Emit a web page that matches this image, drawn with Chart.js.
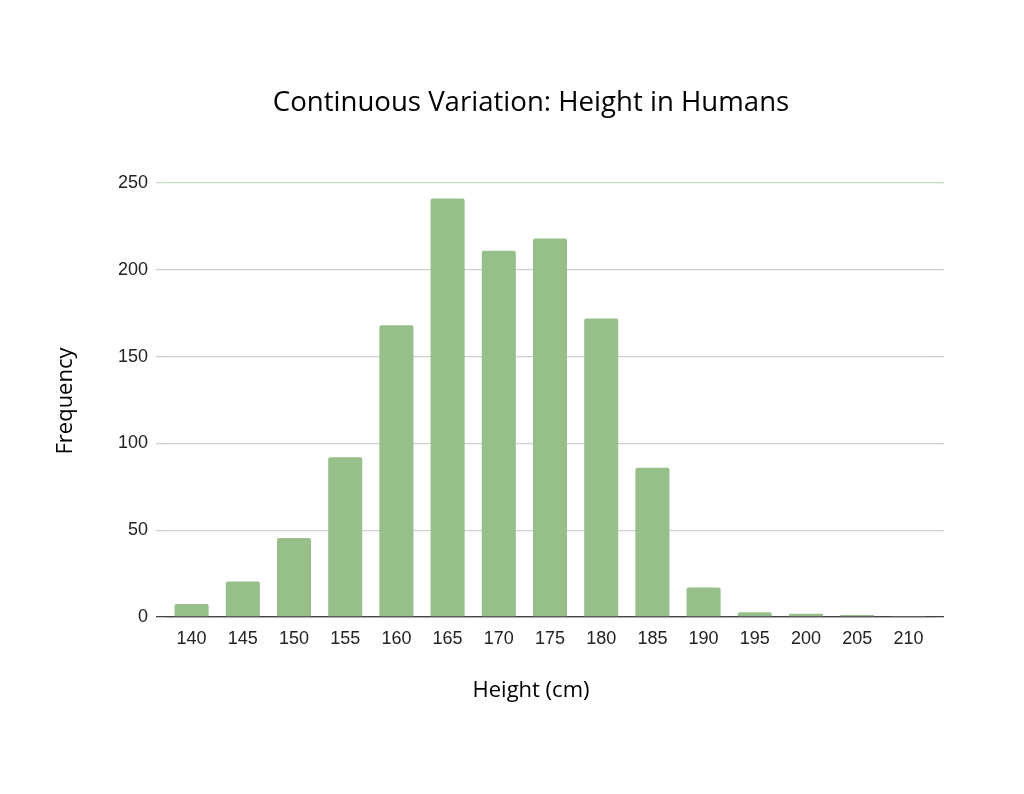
<!DOCTYPE html>
<html>
<head>
<meta charset="utf-8">
<script src="https://cdn.jsdelivr.net/npm/chart.js@4"></script>
<style>
  html, body { margin: 0; padding: 0; background: #fff; }
  #wrap { width: 1024px; height: 794px; position: relative; }
</style>
</head>
<body>
<div id="wrap"><canvas id="heightChart"></canvas></div>
<script>
// Height bins (cm) and how many people fall in each
const heights = ['140', '145', '150', '155', '160', '165', '170', '175', '180', '185', '190', '195', '200', '205', '210'];
const frequency = [7.5, 20.5, 45.5, 92, 168, 241, 211, 218, 172, 86, 17, 2.7, 1.9, 1.1, 0.3];
const yTicks = [0, 50, 100, 150, 200, 250];

const chartTitle = 'Continuous Variation: Height in Humans';
const xTitle = 'Height (cm)';
const yTitle = 'Frequency';

const barGreen = '#97bf8a';

// Titles sit centred on the page rather than on the plot, so draw them here
const titlesPlugin = {
    id: 'pageTitles',
    afterDraw(chart) {
        const c = chart.ctx;
        c.save();
        c.fillStyle = '#000';
        c.textAlign = 'center';
        c.textBaseline = 'middle';
        c.font = '27.6px "Open Sans"';
        c.fillText(chartTitle, 531, 103);
        c.font = '22px "Open Sans"';
        c.fillText(xTitle, 531, 691);
        c.translate(66, 401);
        c.rotate(-Math.PI / 2);
        c.fillText(yTitle, 0, 0);
        c.restore();
    }
};

// gridlines run a little past the bars on both sides
const gridColor = ctx => {
    if (!ctx.tick) return '#d0d0d0';
    if (ctx.tick.value === 0) return '#444';
    if (ctx.tick.value === 250) return '#c6dbc1';
    return '#d0d0d0';
};

const ctx = document.getElementById('heightChart').getContext('2d');
new Chart(ctx, {
    type: 'bar',
    data: {
        labels: heights,
        datasets: [{
            label: 'Frequency',
            data: frequency,
            backgroundColor: barGreen,
            borderRadius: 2,
            borderSkipped: 'bottom',
            categoryPercentage: 1.0,
            barPercentage: 0.665
        }]
    },
    plugins: [titlesPlugin],
    options: {
        responsive: true,
        maintainAspectRatio: false,
        animation: false,
        layout: {
            padding: { left: 0, right: 80, top: 183, bottom: 0 }
        },
        plugins: {
            legend: { display: false },
            tooltip: { enabled: false },
            title: { display: false }
        },
        scales: {
            x: {
                afterFit: axis => { axis.height = 177; },
                grid: { display: false },
                border: { color: '#444', width: 1.2 },
                ticks: {
                    color: '#222',
                    font: { family: 'Liberation Sans', size: 18 },
                    padding: 3,
                    maxRotation: 0
                }
            },
            y: {
                min: 0,
                max: 250,
                afterFit: axis => { axis.width = 166; },
                afterBuildTicks: axis => {
                    axis.ticks = yTicks.map(v => ({ value: v }));
                },
                grid: {
                    color: gridColor,
                    lineWidth: 1.3,
                    drawTicks: true,
                    tickLength: 10
                },
                border: { display: false },
                ticks: {
                    color: '#222',
                    font: { family: 'Liberation Sans', size: 18 },
                    padding: 8
                }
            },
            yRight: {
                position: 'right',
                min: 0,
                max: 250,
                afterFit: axis => { axis.width = 10; },
                afterBuildTicks: axis => {
                    axis.ticks = yTicks.map(v => ({ value: v }));
                },
                grid: {
                    color: gridColor,
                    lineWidth: 1.3,
                    drawOnChartArea: false,
                    drawTicks: true,
                    tickLength: 10
                },
                border: { display: false },
                ticks: { display: false }
            }
        }
    }
});
</script>
</body>
</html>
